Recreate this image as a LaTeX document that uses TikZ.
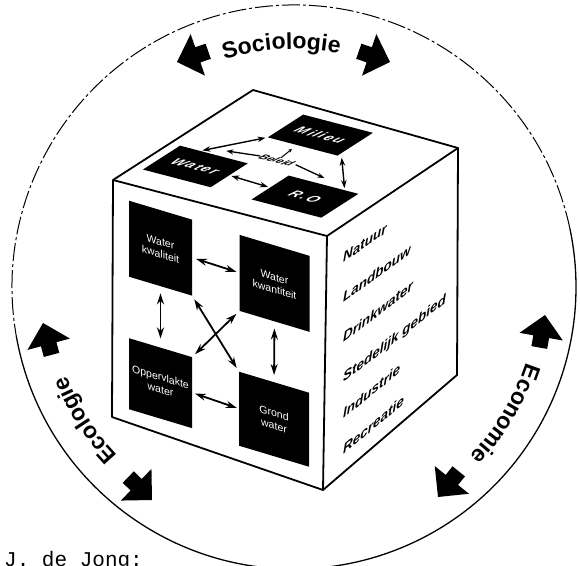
\documentclass[tikz,border=0pt]{standalone}
\usepackage{fontspec}
\setmainfont{Liberation Sans}
\newfontfamily\jmono{Liberation Mono}
\usetikzlibrary{arrows.meta,decorations.text,calc}
\newcommand{\blkarrow}[3]{\fill[shift={(#1,#2)}, rotate=#3, y=1pt] (0,0) -- (-22,22) -- (-22,8) -- (-33,8) -- (-33,-8) -- (-22,-8) -- (-22,-22) -- cycle;}
\begin{document}
\begin{tikzpicture}[x=1pt,y=-1pt,
  cubeline/.style={line width=1.8pt, line join=round},
  fbox/.style={fill=black, text=white, inner sep=0pt, align=center, font=\fontsize{10.5}{12.5}\selectfont},
  tbox/.style={fill=black, text=white, inner sep=0pt, font=\fontsize{14}{15}\selectfont\bfseries\itshape\addfontfeatures{LetterSpace=12}},
  dbl/.style={line width=1.8pt, {Stealth[length=11pt,width=7pt]}-{Stealth[length=11pt,width=7pt]}},
  tdbl/.style={line width=1.4pt, shorten <=2pt, shorten >=2pt, {Stealth[length=8pt,width=5.5pt]}-{Stealth[length=8pt,width=5.5pt]}},
  sarr/.style={line width=1.3pt, -{Stealth[length=7pt,width=5pt]}},
  ftext/.style={anchor=base west, inner sep=0pt, font=\fontsize{13.5}{14}\selectfont\bfseries\itshape},
]
\useasboundingbox (0,0) rectangle (580,565);
\clip (0,0) rectangle (580,565);

% outer circle and discipline labels
\begin{scope}[shift={(294,287)}, y=1pt]
  \draw[line width=1.3pt] (190:282) arc[start angle=190, end angle=372, radius=282];
  \draw[line width=1pt, dash pattern=on 18pt off 3pt on 3pt off 3pt] (12:282) arc[start angle=12, end angle=190, radius=282];
  \path[decorate, decoration={text along path, text align=center, text={|\fontsize{23}{23}\selectfont\bfseries|Sociologie}}] (125:238) arc[start angle=125, end angle=61, radius=238];
  \path[decorate, decoration={text along path, text align=center, text={|\fontsize{23}{23}\selectfont\bfseries|Economie}}] (0:244) arc[start angle=0, end angle=-62, radius=244];
  \path[decorate, decoration={text along path, text align=center, text={|\fontsize{23}{23}\selectfont\bfseries|Ecologie}}] (243:244) arc[start angle=243, end angle=182, radius=244];
\end{scope}

% block arrows
\blkarrow{177}{62}{199}
\blkarrow{390}{62}{-19}
\blkarrow{43}{323}{105}
\blkarrow{152}{500}{-44}
\blkarrow{545}{315}{80}
\blkarrow{438}{497}{231}

% cube
\draw[cubeline] (113,180) -- (253,90) -- (458,148) -- (457,375) -- (323,490) -- (112,417) -- cycle;
\draw[cubeline] (113,180) -- (327,236) -- (458,148);
\draw[cubeline] (327,236) -- (323,490);

% front face
\begin{scope}[cm={1,-0.3,0,1,(0,0)}, transform shape]
  \node[fbox, minimum width=63pt, minimum height=76pt] (wk) at (160.5,200) {Water\\kwaliteit};
  \node[fbox, minimum width=70pt, minimum height=76pt] (wkw) at (274.5,201) {Water\\kwantiteit};
  \node[fbox, minimum width=63pt, minimum height=71pt] (opp) at (160.5,335) {Oppervlakte\\water};
  \node[fbox, minimum width=70pt, minimum height=74pt] (gw) at (274,337) {Grond\\water};
\end{scope}
\draw[dbl, shorten <=4pt, shorten >=3pt] (wk.east) -- (wkw.west);
\draw[dbl, shorten <=7pt, shorten >=9pt] (wk.south) -- (opp.north);
\draw[dbl, shorten <=7pt, shorten >=7pt] (wkw.south) -- (gw.north);
\draw[dbl, shorten <=3pt, shorten >=2pt] (opp.east) -- (gw.west);
\draw[dbl, shorten <=4pt, shorten >=4pt] (wk.south east) -- (gw.north west);
\draw[dbl, shorten <=4pt, shorten >=4pt] (wkw.south west) -- (opp.north east);

% top face
\begin{scope}[cm={0.968,-0.253,0.843,0.542,(113pt,-180pt)}, y=1pt, transform shape]
  \node[tbox, minimum width=70pt, minimum height=44pt] (water) at (45,46) {Water};
  \node[tbox, minimum width=72pt, minimum height=42pt] (milieu) at (101,130) {Milieu};
  \node[tbox, minimum width=72pt, minimum height=44pt] (ro) at (160,44) {R.O};
  \node[inner sep=0.5pt, font=\fontsize{11}{12}\selectfont\bfseries\itshape] (beleid) at (98,82) {Beleid};
  \coordinate (bl) at (50,77);
  \coordinate (bu) at (96,102);
  \coordinate (br) at (153,75);
\end{scope}
\draw[tdbl] ($(water.north west)!0.3!(water.north east)$) -- (milieu.south west);
\draw[tdbl] (water.east) -- (ro.west);
\draw[tdbl] ([xshift=4pt]milieu.south east) -- ($(ro.north)!0.6!(ro.north east)$);
\draw[sarr] (beleid.west) -- (bl);
\draw[line width=1pt, -{Stealth[length=3.5pt,width=3.5pt]}] (beleid.north) -- (bu);
\draw[sarr] ([xshift=2pt]beleid.east) -- (br);

% right face
\node[ftext, yslant=0.70] (natuur) at (343,263) {Natuur};
\node[ftext, yslant=0.73] (landbouw) at (343,303) {Landbouw};
\node[ftext, yslant=0.76] (drink) at (343,343) {Drinkwater};
\node[ftext, yslant=0.78] (stedelijk) at (343,383) {Stedelijk gebied};
\node[ftext, yslant=0.81] (industrie) at (343,419) {Industrie};
\node[ftext, yslant=0.84] (recreatie) at (343,455) {Recreatie};

% author
\node[anchor=base west, inner sep=0pt, font=\jmono\fontsize{21}{21}\selectfont] (author) at (4,566) {J. de Jong:};
\end{tikzpicture}
\end{document}
